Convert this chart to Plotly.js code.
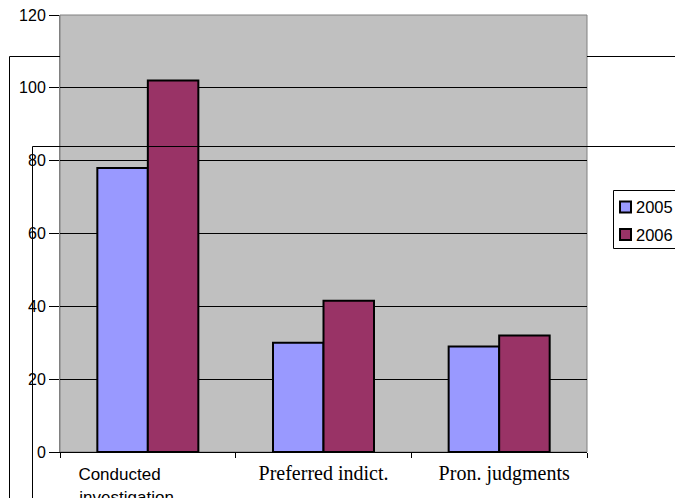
<!DOCTYPE html>
<html>
<head>
<meta charset="utf-8">
<script src="https://cdn.plot.ly/plotly-3.0.1.min.js"></script>
<style>
  html, body { margin: 0; padding: 0; background: #ffffff; }
  #chart { width: 675px; height: 498px; }
</style>
</head>
<body>
<div id="chart"></div>
<script>
// ---- data ----
const categories = ['Conducted investigation', 'Preferred indict.', 'Pron. judgments'];
const seriesNames = ['2005', '2006'];
const values2005 = [78, 30, 29];
const values2006 = [102, 41.5, 32];
const yTickValues = [0, 20, 40, 60, 80, 100, 120];

// ---- styling ----
const seriesColors = ['#9999FF', '#993366'];
const W = 675, H = 498;
const M = { l: 60, r: 88, t: 15, b: 46 };
const PW = W - M.l - M.r, PH = H - M.t - M.b;
const px = x => (x - M.l) / PW;          // pixel -> paper x
const py = y => (H - M.b - y) / PH;      // pixel -> paper y
const nb = n => '&nbsp;'.repeat(n);

// Tick labels: first one in sans (wrapped on two lines, left-shifted), the others in serif
const tickText = categories.map((c, i) => {
  if (i === 0) {
    const parts = c.split(' ');
    return parts[0] + nb(12) + '<br>' + parts[1] + nb(9);
  }
  const lead = i === 2 ? nb(2) : '';
  return '<span style="font-family:Liberation Serif;font-size:20px">' + lead + c + '</span>';
});

const allValues = [values2005, values2006];
const traces = seriesNames.map((name, i) => ({
  type: 'bar',
  name: name,
  x: categories,
  y: allValues[i],
  marker: { color: seriesColors[i], line: { color: '#000000', width: 2 } },
  showlegend: false,
  hoverinfo: 'x+y+name'
}));

const lineStyle = { color: '#000000', width: 1 };
const shapes = [
  // plot area border (gray)
  { type: 'rect', xref: 'paper', yref: 'paper', x0: 0, x1: 1, y0: 0, y1: 1,
    line: { color: '#808080', width: 1 }, layer: 'below' },
  // stray frame 1 (behind plot area)
  { type: 'line', xref: 'paper', yref: 'paper', x0: px(9.5), x1: px(9.5), y0: py(56.5), y1: py(500), line: lineStyle },
  { type: 'line', xref: 'paper', yref: 'paper', x0: px(9.5), x1: px(60), y0: py(56.5), y1: py(56.5), line: lineStyle },
  { type: 'line', xref: 'paper', yref: 'paper', x0: px(587), x1: px(680), y0: py(56.5), y1: py(56.5), line: lineStyle },
  // stray frame 2 (on top)
  { type: 'line', xref: 'paper', yref: 'paper', x0: px(32.5), x1: px(32.5), y0: py(146.5), y1: py(500), line: lineStyle },
  { type: 'line', xref: 'paper', yref: 'paper', x0: px(32.5), x1: px(680), y0: py(146.5), y1: py(146.5), line: lineStyle },
  // legend box
  { type: 'rect', xref: 'paper', yref: 'paper', x0: px(613.5), x1: px(690), y0: py(190.5), y1: py(248.5),
    fillcolor: '#ffffff', line: { color: '#000000', width: 1 } }
];

const annotations = [];
const legendRowY = [207, 234.5];
seriesNames.forEach((name, i) => {
  const cy = legendRowY[i];
  shapes.push({ type: 'rect', xref: 'paper', yref: 'paper',
    x0: px(620), x1: px(631), y0: py(cy - 5.5), y1: py(cy + 5.5),
    fillcolor: seriesColors[i], line: { color: '#000000', width: 2 } });
  annotations.push({ xref: 'paper', yref: 'paper', x: px(634), y: py(cy),
    xanchor: 'left', yanchor: 'middle', showarrow: false, text: name,
    font: { family: 'Liberation Sans, Arial, sans-serif', size: 16.5, color: '#000000' } });
});

const layout = {
  width: W, height: H,
  margin: M,
  paper_bgcolor: '#ffffff',
  plot_bgcolor: '#C0C0C0',
  font: { family: 'Liberation Sans, Arial, sans-serif', color: '#000000' },
  barmode: 'group',
  bargap: 0.425,
  bargroupgap: 0,
  showlegend: false,
  xaxis: {
    type: 'category',
    tickmode: 'array',
    tickvals: categories,
    ticktext: tickText,
    tickson: 'boundaries',
    ticks: 'outside', ticklen: 5, tickcolor: '#000000', tickwidth: 1,
    showline: true, linecolor: '#000000', linewidth: 1,
    showgrid: false, zeroline: false,
    tickfont: { family: 'Liberation Sans, Arial, sans-serif', size: 17, color: '#000000' },
    ticklabelstandoff: 7,
    automargin: false
  },
  yaxis: {
    range: [0, 120],
    tickmode: 'array',
    tickvals: yTickValues,
    ticktext: yTickValues.map(String),
    ticks: 'outside', ticklen: 10, tickcolor: '#000000', tickwidth: 1,
    showline: true, linecolor: '#808080', linewidth: 1,
    showgrid: true, gridcolor: '#000000', gridwidth: 1,
    zeroline: false,
    tickfont: { family: 'Liberation Sans, Arial, sans-serif', size: 16, color: '#000000' },
    automargin: false
  },
  shapes: shapes,
  annotations: annotations
};

Plotly.newPlot('chart', traces, layout, { displayModeBar: false, staticPlot: true });
</script>
</body>
</html>
